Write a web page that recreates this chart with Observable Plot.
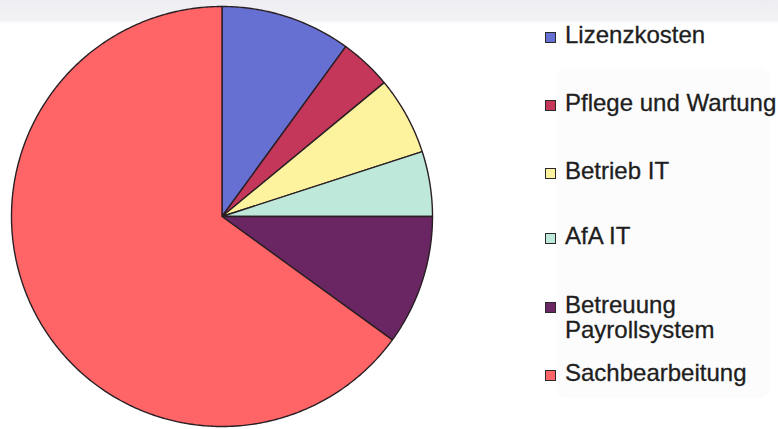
<!DOCTYPE html>
<html>
<head>
<meta charset="utf-8">
<script src="https://cdn.jsdelivr.net/npm/d3@7"></script>
<script src="https://cdn.jsdelivr.net/npm/@observablehq/plot@0.6"></script>
<style>
  html, body { margin: 0; padding: 0; background: #ffffff; }
  #wrap { position: relative; width: 778px; height: 429px; overflow: hidden;
          background: linear-gradient(#eeeef2 0px, #f2f2f5 20px, #ffffff 24px); }
  #chart { position: absolute; left: 0; top: 0; }
  #ghost { position: absolute; left: 556px; top: 68px; width: 214px; height: 330px;
           border-radius: 10px; background: #fcfcfd; }
  .lg { position: absolute; left: 545px; font-family: "Liberation Sans", Arial, sans-serif;
        font-size: 24px; line-height: 25px; color: #1e1e1e; }
  .sw { position: absolute; left: 0; width: 9px; height: 9px; border: 1px solid #2a2a2a; }
  .tx { position: absolute; left: 20px; white-space: nowrap; -webkit-text-stroke: 0.3px #1e1e1e; }
</style>
</head>
<body>
<div id="wrap">
  <div id="ghost"></div>
  <div id="chart"></div>
  <div id="legend"></div>
</div>
<script>
const categories = ["Lizenzkosten", "Pflege und Wartung", "Betrieb IT", "AfA IT", "Betreuung Payrollsystem", "Sachbearbeitung"];
const legendLabels = [["Lizenzkosten"], ["Pflege und Wartung"], ["Betrieb IT"], ["AfA IT"], ["Betreuung", "Payrollsystem"], ["Sachbearbeitung"]];
const shares = [10, 4, 6, 5, 10, 65];
const colors = ["#6670d2", "#c4365a", "#fdf29d", "#bde8da", "#6a2563", "#ff6566"];

const data = categories.map((c, i) => ({name: c, value: shares[i]}));
const arcs = d3.pie().sort(null).value(d => d.value)(data);

// polygon outline of each wedge (center -> arc -> center)
const pts = [];
arcs.forEach(a => {
  const n = Math.max(4, Math.ceil((a.endAngle - a.startAngle) / 0.01));
  pts.push({name: a.data.name, x: 0, y: 0});
  for (let k = 0; k <= n; k++) {
    const t = a.startAngle + (a.endAngle - a.startAngle) * k / n;
    pts.push({name: a.data.name, x: Math.sin(t), y: Math.cos(t)});
  }
  pts.push({name: a.data.name, x: 0, y: 0});
});

const plot = Plot.plot({
  width: 778,
  height: 429,
  marginLeft: 11,
  marginRight: 778 - 432,
  marginTop: 6,
  marginBottom: 3,
  x: {domain: [-1, 1], axis: null},
  y: {domain: [-1, 1], axis: null},
  color: {domain: categories, range: colors, legend: false},
  style: {background: "transparent", overflow: "visible"},
  marks: [
    Plot.line(pts, {x: "x", y: "y", z: "name", fill: "name", stroke: "#2a1f24", strokeWidth: 1.4, strokeLinejoin: "round", curve: "linear"})
  ]
});
document.getElementById("chart").appendChild(plot);

// legend
const legendTops = [37, 105, 173, 238, 307, 375]; // swatch centers
const legend = document.getElementById("legend");
categories.forEach((c, i) => {
  const row = document.createElement("div");
  row.className = "lg";
  row.style.top = (legendTops[i] - 18) + "px";
  const sw = document.createElement("div");
  sw.className = "sw";
  sw.style.background = colors[i];
  sw.style.top = "13px";
  const tx = document.createElement("div");
  tx.className = "tx";
  tx.style.top = "3px";
  tx.innerHTML = legendLabels[i].join("<br>");
  row.appendChild(sw);
  row.appendChild(tx);
  legend.appendChild(row);
});
</script>
</body>
</html>
